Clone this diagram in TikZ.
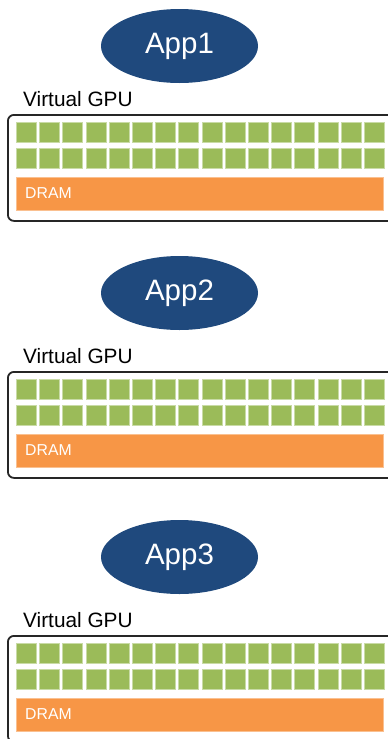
\documentclass[tikz,border=0pt]{standalone}
\usepackage{fontspec}
\setmainfont{Liberation Sans}
\usetikzlibrary{shapes.geometric}
\definecolor{appblue}{HTML}{1F497D}
\definecolor{sqgreen}{HTML}{9BBB59}
\definecolor{sqedge}{HTML}{C9DBA6}
\definecolor{dramorange}{HTML}{F79646}
\definecolor{dramedge}{HTML}{FAC090}
\tikzset{
 appnode/.style={ellipse, fill=appblue, text=white, minimum width=157pt, minimum height=74pt, inner sep=0pt, font=\fontsize{29.5}{29.5}\selectfont},
 gpulabel/.style={anchor=base west, inner sep=0pt, font=\fontsize{20.8}{20.8}\selectfont},
 gpubox/.style={draw=black!85, line width=1.8pt, rounded corners=6pt, minimum width=395pt, minimum height=106pt, anchor=north west, inner sep=0pt},
 core/.style={fill=sqgreen, draw=sqedge, line width=0.8pt, minimum size=20pt, inner sep=0pt, anchor=north west},
 dram/.style={fill=dramorange, draw=dramedge, line width=0.6pt, minimum width=367pt, minimum height=33pt, anchor=north west, inner sep=0pt},
 dramlabel/.style={text=white, font=\fontsize{15.8}{15.8}\selectfont, anchor=west, inner sep=0pt}
}
\begin{document}
\begin{tikzpicture}[x=1pt,y=-1pt]
\useasboundingbox (0,0) rectangle (388,739);
\foreach \k/\T/\E in {1/114/46, 2/371/293, 3/635/557} {
  \node[appnode] (app\k) at (179.5,\E) {App\k};
  \node[gpulabel] (lbl\k) at (23,\T-8) {Virtual GPU};
  \node[gpubox] (gpu\k) at (7,\T) {};
  \foreach \c in {0,...,15} {
    \node[core] (c\k a\c) at (16+\c*23.2, \T+8) {};
    \node[core] (c\k b\c) at (16+\c*23.2, \T+34) {};
  }
  \node[dram] (dram\k) at (16,\T+63) {};
  \node[dramlabel] (dl\k) at (25,\T+79.5) {DRAM};
}
\end{tikzpicture}
\end{document}
